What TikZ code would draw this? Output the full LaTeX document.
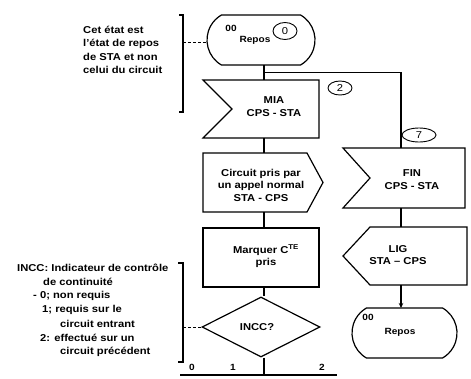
\documentclass[tikz,border=0pt]{standalone}
\usepackage{fontspec}
\setmainfont{Liberation Sans}
\newfontfamily\lab[FakeStretch=1.12]{Liberation Sans}
\usetikzlibrary{shapes.misc,shapes.geometric,arrows.meta,calc}
\begin{document}
\begin{tikzpicture}[x=1pt,y=-1pt,
  stroke/.style={line width=1.2pt},
  frame/.style={rectangle, inner sep=0pt, outer sep=0pt, draw=none},
  term/.style={rounded rectangle, rounded rectangle arc length=120, draw, line width=1.2pt, inner sep=0pt, outer sep=0pt},
  lbl/.style={font=\lab\bfseries\fontsize{10}{12.5}\selectfont, align=center, inner sep=0pt},
  notetxt/.style={font=\lab\bfseries\fontsize{10}{13.5}\selectfont, align=left, inner sep=0pt, anchor=west},
  tinytxt/.style={font=\lab\bfseries\fontsize{9}{10}\selectfont, inner sep=0pt},
  circlab/.style={draw, ellipse, line width=0.9pt, inner sep=0pt, font=\lab\fontsize{10}{10}\selectfont},
  dotline/.style={line width=0.9pt, dash pattern=on 2.5pt off 2.5pt},
]
\useasboundingbox (0,0) rectangle (471,378);
\coordinate (stem) at (264,0);
\coordinate (rstem) at (401,0);

% ---- top terminal
\node[term, minimum width=108pt, minimum height=50pt] (repos) at (261,40) {};
\node[tinytxt] (reposzz) at (231,28) {00};
\node[tinytxt] (reposlbl) at (255,40) {Repos};
\node[circlab, minimum width=24pt, minimum height=17pt] (c0) at (285,31) {0};

% ---- MIA (receive)
\node[frame, minimum width=116pt, minimum height=58pt] (mia) at (261,109) {};
\draw[stroke] (mia.north west) -- (mia.north east) -- (mia.south east) -- (mia.south west) -- ($(mia.west)+(29,0)$) -- cycle;
\node[lbl] (mialbl) at (274,106.5) {MIA\\CPS - STA};
\node[circlab, minimum width=24pt, minimum height=14pt] (c2) at (340,88) {2};

% ---- Circuit pris (send)
\node[frame, minimum width=120pt, minimum height=59pt] (circ) at (263,182.5) {};
\draw[stroke] (circ.north west) -- ($(circ.north east)+(-16,0)$) -- (circ.east) -- ($(circ.south east)+(-16,0)$) -- (circ.south west) -- cycle;
\node[lbl] (circlbl) at (261,185) {Circuit pris par\\un appel normal\\STA - CPS};

% ---- Marquer
\node[frame, draw, stroke, minimum width=116pt, minimum height=59pt] (marq) at (261,257.5) {};
\node[lbl] (marqlbl) at (266,256.5) {Marquer C\textsuperscript{TE}\\pris};

% ---- diamond
\node[diamond, draw, stroke, inner sep=0pt, minimum width=118pt, minimum height=60pt] (incc) at (261,327) {};
\node[lbl] (incclbl) at (257,327) {INCC?};

% ---- FIN (receive)
\node[frame, minimum width=122pt, minimum height=60pt] (fin) at (404,178) {};
\draw[stroke] (fin.north west) -- (fin.north east) -- (fin.south east) -- (fin.south west) -- ($(fin.west)+(27,0)$) -- cycle;
\node[lbl] (finlbl) at (412,179.5) {FIN\\CPS - STA};
\node[circlab, minimum width=34pt, minimum height=14pt] (c7) at (419,135) {7};

% ---- LIG (send, left)
\node[frame, minimum width=124pt, minimum height=58pt] (lig) at (405,256) {};
\draw[stroke] ($(lig.north west)+(27,0)$) -- (lig.north east) -- (lig.south east) -- ($(lig.south west)+(27,0)$) -- (lig.west) -- cycle;
\node[lbl] (liglbl) at (398,255) {LIG\\STA – CPS};

% ---- bottom terminal
\node[term, minimum width=105pt, minimum height=50pt] (repos2) at (404.5,333) {};
\node[tinytxt] (repos2zz) at (368,317) {00};
\node[tinytxt] (repos2lbl) at (400,332) {Repos};

% ---- connectors
\draw[stroke] (repos.south -| stem) -- (mia.north -| stem);
\coordinate (br) at ($(repos.south -| stem)!0.5!(mia.north -| stem)$);
\draw[stroke] (br) -| (fin.north -| rstem);
\draw[stroke] (mia.south -| stem) -- (circ.north -| stem);
\draw[stroke] (circ.south -| stem) -- (marq.north -| stem);
\draw[stroke] (marq.south -| stem) -- (incc.north -| stem);
\draw[stroke] (fin.south -| rstem) -- (lig.north -| rstem);
\draw[stroke, -{Stealth[length=5pt,width=4.5pt]}] (lig.south -| rstem) -- (repos2.north -| rstem);

\coordinate (busL) at (180,375);
\coordinate (busR) at (337,375);
\draw[stroke] (incc.south -| stem) -- (busL -| stem);
\draw[stroke] (busL) -- (busR);
\node[tinytxt] (b0) at (192,367) {0};
\node[tinytxt] (b1) at (233,367) {1};
\node[tinytxt] (b2) at (322,367) {2};

% ---- top note
\draw[stroke] (179,15) -- (183,15) -- (183,112) -- (179,112);
\coordinate (k1) at (183,42);
\draw[dotline] (k1) -- (k1 -| repos.west);
\node[notetxt] (note1) at (83,50) {Cet état est\\l’état de repos\\de STA et non\\celui du circuit};

% ---- lower note
\draw[stroke] (178,263) -- (183,263) -- (183,362) -- (178,362);
\coordinate (k2) at (183,327);
\draw[dotline] (k2) -- (incc.west);
\node[notetxt] (n1) at (17,268) {INCC: Indicateur de contrôle};
\node[notetxt] (n2) at (43,282) {de continuité};
\node[notetxt] (n3) at (33,296) {- 0; non requis};
\node[notetxt] (n4) at (42,310) {1; requis sur le};
\node[notetxt] (n5) at (60,324) {circuit entrant};
\node[notetxt] (n6) at (40,338) {2: effectué sur un};
\node[notetxt] (n7) at (60,352) {circuit précédent};
\end{tikzpicture}
\end{document}
